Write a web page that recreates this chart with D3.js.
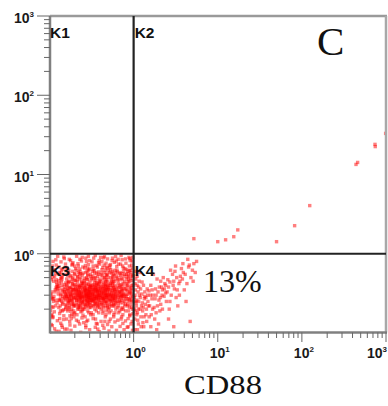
<!DOCTYPE html>
<html><head><meta charset="utf-8">
<script src="https://cdn.jsdelivr.net/npm/d3@7"></script>
<style>body{margin:0;background:#fff}</style>
</head><body><svg id="c" width="388" height="406"></svg>
<script>
// Events in quadrant K3 (CD88 < 1, y < 1)
const eventsK3 = [
[.104,.31],[.118,.22],[.112,.45],[.107,.172],[.121,.38],[.109,.27],[.115,.52],[.124,.143],[.106,.33],[.119,.26],[.111,.61],[.103,.193],[.122,.41],[.113,.29],[.108,.124],[.117,.35],[.105,.47],[.123,.24],[.11,.21],[.116,.33],[.12,.72],[.106,.28],[.114,.185],[.125,.39],[.109,.156],[.118,.56],[.103,.3],[.121,.44],[.112,.25],[.107,.215],[.124,.36],[.115,.113],[.11,.5],[.119,.84],[.105,.165],
[.128,.34],[.135,.27],[.151,.41],[.142,.19],[.131,.58],[.156,.23],[.138,.31],[.147,.148],[.129,.46],[.153,.36],[.134,.22],[.144,.29],[.157,.66],[.132,.176],[.149,.38],[.139,.25],[.127,.31],[.155,.2],[.141,.52],[.136,.133],[.146,.27],[.13,.42],[.152,.33],[.143,.24],[.137,.79],[.158,.29],[.133,.37],[.148,.165],[.14,.47],[.154,.26],[.129,.21],[.145,.35],[.15,.55],[.135,.3],[.142,.118],[.157,.43],[.131,.26],[.139,.62],[.146,.196],[.153,.31],[.127,.39],[.144,.23],[.136,.49],[.151,.28],[.148,.91],[.132,.152],[.141,.34],[.156,.21],[.138,.44],[.13,.105],
[.162,.32],[.175,.26],[.188,.41],[.169,.2],[.196,.35],[.181,.29],[.165,.53],[.192,.22],[.172,.37],[.184,.17],[.161,.27],[.198,.46],[.177,.31],[.167,.24],[.189,.6],[.174,.139],[.194,.28],[.163,.39],[.182,.33],[.171,.21],[.186,.25],[.199,.7],[.166,.44],[.179,.188],[.191,.36],[.16,.29],[.176,.51],[.185,.23],[.168,.34],[.195,.16],[.173,.27],[.187,.42],[.164,.19],[.18,.38],[.193,.3],[.17,.57],[.183,.26],[.197,.22],[.178,.82],[.161,.35],[.19,.32],[.175,.126],[.166,.28],[.188,.48],[.172,.24],[.196,.4],[.184,.2],[.163,.66],[.179,.3],[.192,.27],[.169,.43],[.181,.152],[.186,.35],[.174,.22],[.198,.55],[.165,.31],[.177,.37],[.19,.24],[.162,.112],[.183,.45],[.194,.19],[.17,.29],[.187,.74],[.176,.33],[.167,.25],
[.21,.31],[.23,.27],[.24,.4],[.22,.21],[.205,.36],[.245,.29],[.215,.52],[.235,.24],[.225,.33],[.2,.18],[.24,.45],[.21,.26],[.23,.38],[.22,.3],[.248,.2],[.208,.62],[.232,.34],[.218,.23],[.242,.28],[.228,.48],[.212,.17],[.238,.32],[.202,.41],[.226,.25],[.246,.36],[.216,.29],[.234,.56],[.222,.22],[.204,.33],[.244,.19],[.214,.39],[.236,.27],[.229,.31],[.209,.145],[.241,.43],[.219,.35],[.231,.21],[.249,.68],[.206,.28],[.224,.26],[.239,.37],[.213,.47],[.227,.3],[.247,.24],[.203,.22],[.233,.4],[.217,.32],[.243,.155],[.221,.58],[.237,.3],[.211,.27],[.23,.85],[.207,.35],[.245,.26],[.225,.2],[.215,.44],[.24,.33],[.2,.28],[.235,.5],[.22,.36],[.21,.24],[.248,.42],[.228,.13],[.212,.3],[.238,.23],[.218,.75],[.242,.31],[.204,.46],[.232,.28],[.226,.38],[.216,.2],[.246,.54],[.222,.33],[.209,.26],[.236,.185],[.229,.64],[.202,.38],[.244,.25],
[.26,.3],[.28,.27],[.3,.35],[.27,.22],[.29,.41],[.31,.29],[.255,.33],[.275,.5],[.295,.24],[.265,.38],[.285,.19],[.305,.32],[.26,.44],[.28,.31],[.3,.26],[.27,.58],[.29,.28],[.31,.21],[.255,.25],[.275,.36],[.295,.3],[.265,.16],[.285,.47],[.305,.39],[.262,.27],[.282,.34],[.302,.23],[.272,.3],[.292,.62],[.312,.33],[.258,.2],[.278,.42],[.298,.28],[.268,.35],[.288,.25],[.308,.55],[.263,.32],[.283,.23],[.303,.44],[.273,.29],[.293,.18],[.313,.37],[.257,.39],[.277,.26],[.297,.33],[.267,.71],[.287,.31],[.307,.27],[.26,.23],[.28,.48],[.3,.3],[.27,.34],[.29,.22],[.31,.4],[.256,.29],[.276,.14],[.296,.36],[.266,.26],[.286,.53],[.306,.24],[.261,.37],[.281,.3],[.301,.82],[.271,.21],[.291,.33],[.311,.28],[.259,.46],[.279,.24],[.299,.39],[.269,.31],[.289,.27],[.309,.17],[.264,.34],[.284,.66],[.304,.26],[.274,.4],[.294,.3],[.314,.49],[.257,.28],[.283,.36],[.297,.21],[.27,.125],[.29,.93],[.305,.35],[.278,.29],
[.33,.31],[.36,.27],[.38,.36],[.34,.23],[.37,.42],[.39,.3],[.32,.26],[.35,.5],[.375,.33],[.345,.2],[.385,.28],[.325,.38],[.355,.24],[.395,.45],[.335,.34],[.365,.29],[.38,.22],[.34,.61],[.37,.3],[.33,.17],[.36,.4],[.39,.26],[.35,.35],[.32,.47],[.375,.25],[.345,.32],[.385,.55],[.325,.28],[.355,.37],[.395,.21],[.335,.27],[.365,.43],[.38,.31],[.34,.25],[.37,.68],[.33,.36],[.36,.19],[.39,.34],[.35,.29],[.32,.22],[.378,.39],[.342,.3],[.388,.24],[.328,.52],[.358,.33],[.398,.28],[.338,.41],[.368,.23],[.383,.77],[.348,.27],[.373,.35],[.323,.31],[.353,.15],[.393,.38],[.333,.26],[.363,.57],[.387,.3],[.343,.44],[.372,.21],[.33,.33],[.36,.28],[.39,.48],[.35,.24],[.32,.4],[.375,.3],[.345,.36],[.385,.18],[.325,.25],[.355,.46],[.395,.32],[.335,.88],[.365,.27],[.38,.41],[.34,.29],[.37,.13],[.33,.64],[.36,.34],[.39,.23],[.35,.38],[.326,.3],
[.41,.3],[.44,.26],[.47,.35],[.43,.22],[.46,.4],[.49,.29],[.42,.33],[.45,.5],[.48,.24],[.405,.37],[.435,.19],[.465,.31],[.495,.44],[.425,.27],[.455,.36],[.485,.21],[.415,.58],[.445,.3],[.475,.25],[.41,.41],[.44,.34],[.47,.17],[.43,.29],[.46,.62],[.49,.35],[.42,.23],[.45,.28],[.48,.47],[.405,.26],[.435,.39],[.465,.22],[.495,.3],[.425,.53],[.455,.25],[.485,.38],[.415,.32],[.445,.72],[.475,.28],[.41,.2],[.44,.43],[.47,.3],[.43,.36],[.46,.24],[.49,.55],[.42,.28],[.45,.33],[.48,.19],[.405,.45],[.435,.27],[.465,.38],[.495,.26],[.425,.31],[.455,.14],[.485,.66],[.415,.24],[.445,.37],[.475,.32],[.43,.48],[.46,.27],[.49,.22],[.42,.8],[.45,.41],[.48,.3],[.41,.35],[.44,.21],[.47,.45],[.43,.125],[.46,.34],[.49,.4],[.45,.92],
[.51,.3],[.55,.25],[.59,.36],[.53,.42],[.57,.22],[.61,.29],[.52,.33],[.56,.51],[.6,.26],[.54,.19],[.58,.38],[.62,.31],[.505,.27],[.545,.46],[.585,.23],[.525,.35],[.565,.29],[.605,.57],[.515,.21],[.555,.34],[.595,.27],[.535,.63],[.575,.3],[.615,.2],[.51,.4],[.55,.32],[.59,.45],[.53,.26],[.57,.37],[.61,.24],[.52,.71],[.56,.28],[.6,.33],[.54,.23],[.58,.16],[.62,.48],[.505,.36],[.545,.3],[.585,.53],[.525,.25],[.565,.4],[.605,.28],[.515,.18],[.555,.82],[.595,.35],[.535,.29],[.575,.44],[.615,.33],[.52,.27],[.56,.6],[.6,.22],[.54,.37],[.58,.31],[.51,.14],[.57,.26],
[.64,.3],[.69,.26],[.74,.35],[.66,.22],[.71,.41],[.77,.29],[.65,.5],[.7,.33],[.75,.24],[.67,.37],[.72,.2],[.78,.44],[.645,.27],[.695,.58],[.745,.31],[.665,.18],[.715,.36],[.765,.27],[.655,.42],[.705,.29],[.755,.66],[.675,.25],[.725,.34],[.785,.22],[.64,.38],[.69,.31],[.74,.47],[.66,.28],[.71,.15],[.77,.36],[.65,.24],[.7,.74],[.75,.3],[.67,.33],[.72,.26],[.78,.55],[.68,.4],[.73,.21],[.76,.32],[.635,.62],[.685,.19],[.735,.39],[.705,.28],[.655,.85],[.745,.17],
[.8,.3],[.86,.25],[.92,.36],[.83,.42],[.89,.21],[.95,.31],[.81,.27],[.87,.52],[.93,.23],[.84,.34],[.9,.17],[.96,.46],[.82,.29],[.88,.38],[.94,.26],[.85,.6],[.91,.32],[.97,.2],[.8,.23],[.86,.44],[.92,.28],[.83,.35],[.89,.7],[.95,.25],[.81,.39],[.87,.19],[.93,.54],[.84,.27],[.9,.33],[.96,.14],[.82,.48],[.88,.31],[.94,.4],[.85,.22],[.91,.82],[.97,.29],[.86,.12],
[.105,.55],[.13,.68],[.16,.48],[.19,.77],[.23,.6],[.27,.88],[.31,.52],[.36,.71],[.42,.63],[.49,.86],[.57,.55],[.66,.74],[.76,.6],[.88,.9],[.97,.66],
[.11,.8],[.14,.5],[.17,.62],[.21,.93],[.25,.57],[.29,.73],[.34,.49],[.39,.82],[.45,.58],[.52,.67],[.61,.92],[.7,.53],[.81,.76],[.93,.58],
[.115,.63],[.15,.87],[.18,.53],[.22,.7],[.26,.49],[.3,.64],[.35,.95],[.41,.54],[.47,.76],[.54,.5],[.63,.69],[.73,.84],[.84,.51],[.95,.72],
[.12,.47],[.155,.74],[.2,.56],[.24,.81],[.28,.6],[.33,.7],[.38,.59],[.44,.89],[.5,.61],[.59,.78],[.68,.47],[.79,.65],[.9,.87],[.99,.53],
[.108,.7],[.137,.57],[.172,.85],[.215,.51],[.262,.66],[.32,.79],[.37,.52],[.43,.67],[.48,.53],[.56,.88],[.64,.59],[.74,.7],[.86,.56],[.96,.81],
[.125,.93],[.165,.58],[.205,.65],[.245,.9],[.285,.55],[.325,.6],[.395,.74],[.46,.5],[.53,.73],[.6,.62],[.71,.95],[.83,.63],[.92,.49],
[.102,.5],[.143,.64],[.185,.72],[.228,.55],[.275,.8],[.345,.57],[.405,.9],[.475,.68],[.545,.57],[.62,.81],[.725,.56],[.8,.86],[.89,.61],[.975,.9],
[.11,.16],[.14,.125],[.18,.108],[.22,.14],[.27,.117],[.33,.152],[.39,.104],[.46,.16],[.55,.12],[.65,.145],[.77,.11],[.9,.165],
[.12,.105],[.16,.15],[.2,.122],[.25,.168],[.3,.11],[.36,.132],[.43,.178],[.51,.106],[.6,.138],[.72,.16],[.84,.118],[.97,.108],
[.135,.19],[.175,.165],[.235,.102],[.285,.145],[.35,.118],[.41,.14],[.49,.128],[.58,.17],[.69,.121],[.8,.142],[.93,.13],
[.105,.128],[.152,.112],[.195,.175],[.255,.135],[.315,.18],[.375,.112],[.445,.115],[.53,.15],[.625,.108],[.745,.132],[.86,.152],[.98,.175],
[.155,.3],[.185,.27],[.21,.34],[.235,.29],[.26,.35],[.285,.28],[.31,.31],[.34,.27],[.37,.33],[.4,.29],[.44,.32],[.48,.28],[.52,.31],[.57,.34],
[.165,.36],[.195,.23],[.22,.4],[.25,.21],[.275,.32],[.3,.38],[.33,.22],[.36,.36],[.39,.43],[.43,.24],[.47,.41],[.51,.23],[.56,.42],[.62,.36],
[.17,.26],[.2,.31],[.23,.22],[.255,.42],[.28,.25],[.315,.26],[.345,.4],[.38,.27],[.42,.38],[.46,.3],[.5,.37],[.55,.27],[.6,.3],[.67,.3],
[.16,.4],[.19,.35],[.225,.28],[.265,.23],[.295,.33],[.325,.35],[.355,.22],[.4,.34],[.44,.27],[.49,.33],[.53,.4],[.58,.24],[.64,.34],[.72,.3],
[.46,.45],[.5,.5],[.55,.44],[.6,.4],[.65,.46],[.7,.38],[.75,.42],[.8,.36],[.85,.4],[.9,.45],[.95,.37],
[.48,.36],[.53,.3],[.58,.27],[.63,.25],[.68,.33],[.73,.29],[.78,.25],[.83,.31],[.88,.27],[.93,.34],[.98,.4],
[.47,.55],[.52,.58],[.57,.48],[.62,.52],[.67,.56],[.72,.49],[.77,.52],[.82,.55],[.87,.47],[.92,.62],[.97,.52],
[.5,.2],[.55,.22],[.6,.18],[.65,.21],[.7,.24],[.75,.2],[.8,.19],[.85,.23],[.9,.26],[.95,.21],
[.13,.26],[.15,.33],[.17,.45],[.12,.37],[.14,.4],[.19,.5],[.11,.27],[.16,.22],[.18,.3],[.13,.55]
];
// Events in quadrant K4 (CD88 > 1, y < 1)
const eventsK4 = [
[1.03,.15],[1.08,.22],[1.14,.13],[1.2,.28],[1.05,.35],[1.11,.18],[1.27,.24],[1.33,.16],[1.04,.42],[1.17,.3],[1.42,.2],[1.09,.26],[1.23,.12],[1.36,.33],[1.06,.19],[1.48,.25],[1.15,.38],[1.3,.21],[1.02,.28],[1.12,.145],[1.25,.31],[1.4,.17],[1.07,.24],[1.19,.2],[1.45,.36],[1.1,.52],[1.34,.27],[1.03,.11],[1.22,.16],[1.16,.45],[1.38,.23],[1.05,.6],[1.29,.135],[1.13,.33],[1.47,.3],
[1.55,.22],[1.7,.3],[1.85,.18],[2.0,.26],[2.2,.35],[1.6,.4],[1.78,.15],[1.95,.33],[2.1,.23],[2.35,.42],[1.65,.27],[1.9,.48],[2.05,.19],[2.3,.29],[1.52,.34],[1.75,.21],[2.15,.38],[2.45,.25],[1.82,.36],[1.62,.17],[2.25,.5],[1.98,.13],[2.4,.32],[1.72,.55],[2.08,.28],
[2.6,.38],[2.8,.3],[3.0,.45],[3.3,.35],[3.6,.52],[2.7,.25],[3.1,.6],[3.45,.42],[3.8,.48],[2.9,.55],[3.2,.28],[3.7,.65],[2.55,.47],[3.05,.36],[3.5,.3],[3.9,.58],[2.75,.62],[3.35,.22],[3.15,.7],[2.65,.2],
[4.1,.55],[4.5,.68],[4.8,.5],[5.2,.75],[4.3,.42],[5.6,.8],[4.7,.14],[4.0,.35],[5.0,.62],[4.4,.85],[5.4,.58],[4.2,.25],
[1.04,.3],[1.09,.17],[1.15,.25],[1.21,.36],[1.28,.19],[1.35,.29],[1.43,.14],[1.5,.22],[1.58,.3],[1.68,.2],[1.8,.27],[1.92,.22],[2.02,.38],[2.18,.3],[2.32,.36],[2.5,.33],[2.7,.44],[2.95,.4],[3.25,.5],[3.55,.45],[1.06,.48],[1.18,.58],[1.26,.44],[1.02,.2],[1.11,.11],[1.32,.12],[1.6,.12],[1.88,.11],[2.6,.15],[3.0,.12],[4.6,.72],[3.85,.75],[5.1,.45],
[1.05,.25],[1.1,.4],[1.14,.2],[1.24,.22],[1.31,.4],[1.4,.28],[1.53,.16],[1.66,.35],[1.85,.3],[2.1,.45],[2.4,.4],[2.2,.2]
];
// Sparse events above the horizontal gate (K2)
const eventsK2 = [
[5.2,1.55],[10,1.42],[12.4,1.5],[15.5,1.64],[17.3,2.0],[50,1.42],[82,2.26],[124,4.05],[440,13.4],[460,14.2],[740,24],[745,22.5],[990,33]
];
const majorTicks = [1, 10, 100, 1000];
const minorMultipliers = [2, 3, 4, 5, 6, 7, 8, 9];
const minorDecades = [0.1, 1, 10, 100];
const tickExponents = ["0", "1", "2", "3"];
const quadrantLabels = ["K1", "K2", "K3", "K4"];
const percentLabel = "13%";
const panelLetter = "C";
const xTitle = "CD88";
const gateX = 1, gateY = 1;

const svg = d3.select("#c");
const x = d3.scaleLog().domain([0.1, 1000]).range([49.5, 386]);
const y = d3.scaleLog().domain([0.1, 1000]).range([333, 16]);
const L = 50, R = 386, T = 16, B = 332.5;

svg.append("rect").attr("width", 388).attr("height", 406).attr("fill", "#fff");

const defs = svg.append("defs");
defs.append("clipPath").attr("id", "clip").append("rect")
  .attr("x", L).attr("y", T).attr("width", R - L).attr("height", B - T);
defs.append("filter").attr("id", "soft").append("feGaussianBlur").attr("stdDeviation", 0.45);

const allEvents = eventsK3.concat(eventsK4, eventsK2);
svg.append("g").attr("clip-path", "url(#clip)").append("g").attr("filter", "url(#soft)")
  .selectAll("rect").data(allEvents).join("rect")
  .attr("x", d => x(d[0]) - 1.7).attr("y", d => y(d[1]) - 1.7)
  .attr("width", 3.4).attr("height", 3.4)
  .attr("fill", "#ff0000").attr("fill-opacity", 0.5);

// frame
svg.append("line").attr("x1", L).attr("x2", R + 1).attr("y1", T).attr("y2", T).attr("stroke", "#9a9a9a").attr("stroke-width", 2.5);
svg.append("line").attr("x1", R).attr("x2", R).attr("y1", T).attr("y2", B).attr("stroke", "#a8a8a8").attr("stroke-width", 2.5);
svg.append("line").attr("x1", L).attr("x2", L).attr("y1", T).attr("y2", B + 1).attr("stroke", "#808080").attr("stroke-width", 2.5);
svg.append("line").attr("x1", L).attr("x2", R + 1).attr("y1", B).attr("y2", B).attr("stroke", "#808080").attr("stroke-width", 2.5);

// gate lines
svg.append("line").attr("x1", x(gateX)).attr("x2", x(gateX)).attr("y1", T).attr("y2", B).attr("stroke", "#222").attr("stroke-width", 2.2);
svg.append("line").attr("x1", L).attr("x2", R).attr("y1", y(gateY)).attr("y2", y(gateY)).attr("stroke", "#222").attr("stroke-width", 2.2);

// ticks
const minorVals = [];
minorDecades.forEach(d => minorMultipliers.forEach(m => minorVals.push(d * m)));
const tg = svg.append("g").attr("stroke", "#666").attr("stroke-width", 1);
tg.selectAll(".ym").data(minorVals).join("line")
  .attr("x1", 44).attr("x2", L).attr("y1", d => y(d)).attr("y2", d => y(d));
tg.selectAll(".yM").data(majorTicks).join("line")
  .attr("x1", 37).attr("x2", L).attr("y1", d => y(d)).attr("y2", d => y(d));
tg.selectAll(".xm").data(minorVals).join("line")
  .attr("y1", B).attr("y2", 338).attr("x1", d => x(d)).attr("x2", d => x(d));
tg.selectAll(".xM").data(majorTicks).join("line")
  .attr("y1", B).attr("y2", 342).attr("x1", d => x(d)).attr("x2", d => x(d));

// tick labels
const lab = svg.append("g").attr("font-family", "'Liberation Sans', Arial, sans-serif")
  .attr("font-weight", "bold").attr("fill", "#1a1a1a");
majorTicks.forEach((v, i) => {
  const t = lab.append("text").attr("x", 34).attr("y", y(v) + 7).attr("text-anchor", "end").attr("font-size", 14);
  t.append("tspan").text("10");
  t.append("tspan").attr("dy", -6).attr("font-size", 8).text(tickExponents[i]);
  const last = i === majorTicks.length - 1;
  const tx = lab.append("text").attr("x", last ? 387 : x(v) + 2).attr("y", 358)
    .attr("text-anchor", last ? "end" : "middle").attr("font-size", 14);
  tx.append("tspan").text("10");
  tx.append("tspan").attr("dy", -6).attr("font-size", 8).text(tickExponents[i]);
});

// quadrant labels
const qpos = [[L, 38], [x(gateX) + 1, 38], [L, 276], [x(gateX) + 1, 276]];
svg.append("g").selectAll("text").data(quadrantLabels).join("text")
  .attr("x", (d, i) => qpos[i][0]).attr("y", (d, i) => qpos[i][1])
  .attr("font-family", "'Liberation Sans', Arial, sans-serif").attr("font-weight", "bold")
  .attr("font-size", 15.5).attr("fill", "#111").text(d => d);

const serif = "'Liberation Serif', 'Times New Roman', serif";
svg.append("text").attr("x", 317).attr("y", 55).attr("font-family", serif).attr("font-size", 41).attr("fill", "#111").text(panelLetter);
svg.append("text").attr("x", 203).attr("y", 292).attr("font-family", serif).attr("font-size", 32).attr("fill", "#111").text(percentLabel);
svg.append("text").attr("x", 184).attr("y", 394).attr("font-family", serif).attr("font-size", 27)
  .attr("textLength", 78).attr("lengthAdjust", "spacingAndGlyphs").attr("fill", "#111").text(xTitle);
</script></body></html>
